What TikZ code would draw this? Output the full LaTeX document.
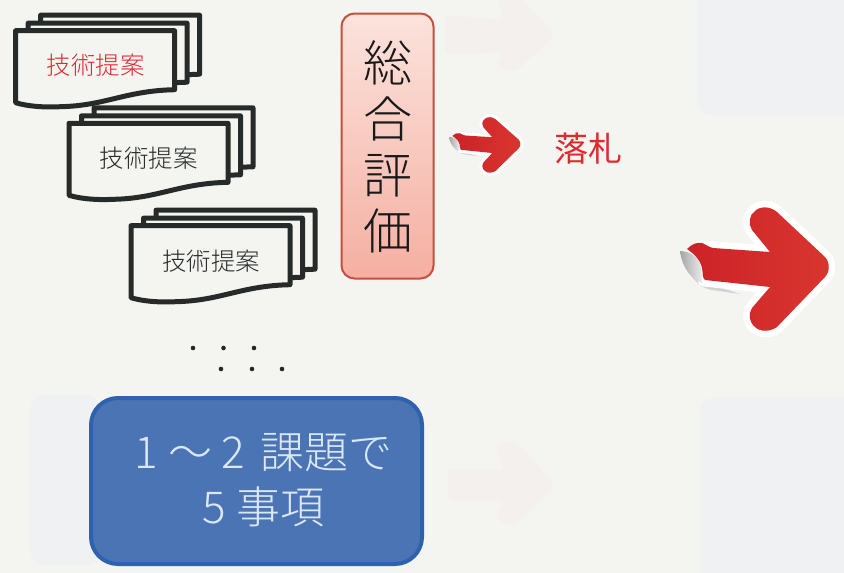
\documentclass[tikz,border=0pt]{standalone}
\usepackage{fontspec}
\setmainfont{Noto Sans CJK JP}
\newfontfamily\cjklight{Noto Sans CJK JP Light}
\definecolor{paper}{HTML}{F4F4F1}
\definecolor{ink}{HTML}{262B2A}
\definecolor{stickred}{HTML}{D9362F}
\definecolor{stickdark}{HTML}{CC2228}
\definecolor{textred}{HTML}{DE2A30}
\definecolor{boxedge}{HTML}{C5503F}
\definecolor{boxtop}{HTML}{FBE3DC}
\definecolor{boxbot}{HTML}{F5AFA2}
\definecolor{blueedge}{HTML}{2F62AC}
\definecolor{bluefill}{HTML}{4A74B4}
\definecolor{bluetext}{HTML}{DCE7F5}
\definecolor{ghostblue}{HTML}{F0F1F2}
\definecolor{ghostpink}{HTML}{F4F0EE}
\tikzset{
  sheet/.style={draw=ink,fill=paper,line width=5pt,line join=round},
  doclabel/.style={font=\cjklight\fontsize{24.5}{26}\selectfont,inner sep=0pt,text=ink},
  dotmark/.style={circle,fill=black!85,inner sep=0pt,minimum size=4.6pt},
  docstack/.pic={
    \foreach \dx/\dy in {25/-15.5,12.5/-7.5,0/0}{
      \path[sheet,shift={(\dx,\dy)}] (0,0) -- (159,0) -- (159,59)
        .. controls (110,60) and (90,75) .. (45,76)
        .. controls (25,77) and (10,75) .. (0,72) -- cycle;
    }
  }
}
% #1 width of the white outline
\newcommand{\stickerarrow}[1]{%
  % shadow under the peeled tail
  \path[fill=black!30,opacity=.5]
    (684,262) .. controls (690,276) and (698,288) .. (712,290)
    -- (740,294) -- (704,282) -- cycle;
  % white outline round the head and lower shaft
  \path[fill=white,draw=white,line width=#1,line join=round,line cap=round]
    (702,247) -- (770,252) -- (752,230) .. controls (748,224) and (749,215) .. (755,211)
    .. controls (760,206) and (770,206) .. (777,212) -- (825,257)
    .. controls (830,262) and (830,272) .. (825,277) -- (777,327)
    .. controls (770,332) and (760,332) .. (755,327)
    .. controls (749,322) and (748,314) .. (752,308) -- (770,287) -- (704,280) -- cycle;
  % red body
  \path[left color=stickdark,right color=stickred]
    (687,249) .. controls (692,244) and (697,242) .. (702,243)
    .. controls (706,244) and (708,247) .. (713,248)
    -- (770,252) -- (752,230) .. controls (748,224) and (749,215) .. (755,211)
    .. controls (760,206) and (770,206) .. (777,212) -- (825,257)
    .. controls (830,262) and (830,272) .. (825,277) -- (777,327)
    .. controls (770,332) and (760,332) .. (755,327)
    .. controls (749,322) and (748,314) .. (752,308) -- (770,287) -- (705,280)
    .. controls (702,278) and (703,272) .. (702,268)
    .. controls (701,262) and (695,254) .. (687,249) -- cycle;
  % peeled corner
  \path[left color=black!35,right color=black!8]
    (680,251) .. controls (690,251) and (699,258) .. (701,267)
    .. controls (702,272) and (701,276) .. (702,283)
    .. controls (692,280) and (682,268) .. (680,251) -- cycle;
}
\begin{document}
\begin{tikzpicture}[x=1pt,y=-1pt]
\useasboundingbox (0,0) rectangle (844,573);
\fill[paper] (0,0) rectangle (844,573);
% faint show-through of the reverse side
\fill[ghostblue,rounded corners=14pt] (697,-20) rectangle (860,115);
\fill[ghostblue,rounded corners=14pt] (700,398) rectangle (860,585);
\fill[ghostblue,rounded corners=14pt] (30,395) rectangle (100,565);
\fill[ghostpink,rounded corners=6pt] (445,15) -- (505,20) -- (495,-5) -- (515,-8) -- (555,35) -- (515,72) -- (495,65) -- (505,52) -- (445,55) -- cycle;
\fill[ghostpink,rounded corners=6pt] (448,470) -- (505,470) -- (495,445) -- (515,440) -- (555,485) -- (515,525) -- (495,520) -- (505,500) -- (448,500) -- cycle;

% document stacks
\pic at (15.6,30.7) {docstack};
\pic at (69,123.3) {docstack};
\pic at (131,225.7) {docstack};
\node[doclabel,text=textred] (doc1) at (95.5,65) {技術提案};
\node[doclabel] (doc2) at (148.5,158) {技術提案};
\node[doclabel] (doc3) at (211,261.5) {技術提案};

% evaluation box
\node[draw=boxedge,line width=2pt,rounded corners=13pt,top color=boxtop,bottom color=boxbot,
  minimum width=92pt,minimum height=265pt,inner sep=0pt] (sogo) at (387.5,146) {};
\node[font=\cjklight\fontsize{49}{56}\selectfont,align=center,text=black!90,inner sep=0pt] (sogotext) at (387.5,147)
  {総\\合\\評\\価};

% arrows
\begin{scope}[shift={(520,144)},xscale=.48,yscale=.45,shift={(-828,-267)}]
\stickerarrow{6pt}
\end{scope}
\node[font=\fontsize{34}{36}\selectfont,text=textred,inner sep=0pt] (rakusatsu) at (588.5,149) {落札};
\stickerarrow{13pt}

% dots
\foreach \n/\x/\y in {a/193/348,b/223.5/348,c/254/348,d/221/369,e/252/369,f/282/369}
  \node[dotmark] (dot\n) at (\x,\y) {};

% blue box
\node[draw=blueedge,line width=4pt,rounded corners=27pt,fill=bluefill,
  minimum width=331pt,minimum height=166pt,inner sep=0pt] (summary) at (256.5,481) {};
\node[font=\cjklight\fontsize{44}{55}\selectfont,text=bluetext,align=center,inner sep=0pt] (summarytext) at (263.5,480)
  {1 ～ 2\hspace{5pt} 課題で\\5\hspace{1pt} 事項};
\end{tikzpicture}
\end{document}
